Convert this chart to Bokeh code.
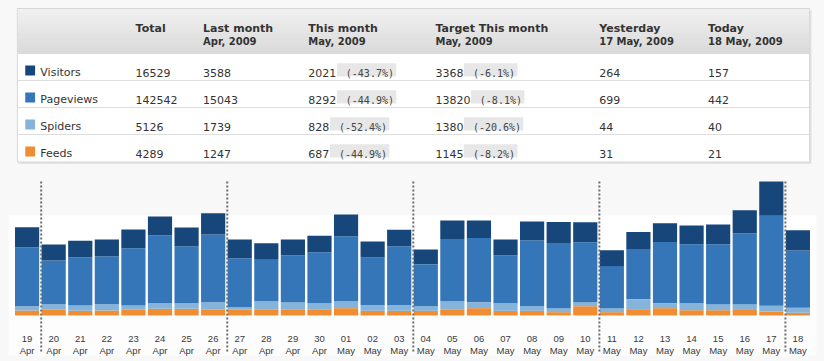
from bokeh.plotting import figure
from bokeh.models import Range1d, FactorRange, ColumnDataSource, BoxAnnotation
from bokeh.layouts import column
from bokeh.core.properties import value
from bokeh.embed import file_html
from bokeh.resources import INLINE

# ---------------- data ----------------
series = ["Visitors", "Pageviews", "Spiders", "Feeds"]
series_colors = ["#16467a", "#3576b8", "#86b3da", "#f08d33"]

col_titles = ["Total", "Last month", "This month", "Target This month", "Yesterday", "Today"]
col_subtitles = ["", "Apr, 2009", "May, 2009", "May, 2009", "17 May, 2009", "18 May, 2009"]

total = [16529, 142542, 5126, 4289]
last_month = [3588, 15043, 1739, 1247]
this_month = [2021, 8292, 828, 687]
this_month_pct = ["(-43.7%)", "(-44.9%)", "(-52.4%)", "(-44.9%)"]
target_month = [3368, 13820, 1380, 1145]
target_pct = ["(-6.1%)", "(-8.1%)", "(-20.6%)", "(-8.2%)"]
yesterday = [264, 699, 44, 31]
today = [157, 442, 40, 21]

day_labels = ["19", "20", "21", "22", "23", "24", "25", "26", "27", "28", "29", "30",
              "01", "02", "03", "04", "05", "06", "07", "08", "09", "10", "11", "12",
              "13", "14", "15", "16", "17", "18"]
month_labels = ["Apr"] * 12 + ["May"] * 18
week_starts = ["20 Apr", "27 Apr", "04 May", "11 May", "18 May"]

visitors = [155, 124, 129, 129, 145, 147, 145, 165, 145, 122, 122, 129, 168, 122, 129,
            114, 145, 137, 122, 145, 163, 155, 122, 132, 145, 145, 153, 178, 264, 157]
pageviews = [457, 339, 374, 372, 444, 525, 442, 525, 380, 326, 364, 395, 504, 372, 457,
             326, 481, 496, 372, 512, 504, 465, 326, 388, 473, 457, 465, 550, 699, 442]
spiders = [33, 43, 41, 49, 33, 43, 43, 59, 20, 67, 59, 51, 54, 43, 43,
           36, 67, 47, 59, 36, 31, 31, 31, 78, 39, 54, 47, 39, 44, 40]
feeds = [39, 44, 36, 39, 44, 52, 52, 44, 44, 44, 44, 44, 57, 36, 36,
         36, 44, 57, 36, 36, 26, 72, 26, 49, 57, 41, 41, 49, 31, 21]

# ---------------- style ----------------
BG = "#f8f8f8"
TXT = "#333333"
FONT = "DejaVu Sans"
MONO = "DejaVu Sans Mono"
W = 820

# ---------------- table figure (page pixel coordinates) ----------------
t = figure(width=W, height=171, x_range=Range1d(0, W), y_range=Range1d(171, 0),
           x_axis_location=None, y_axis_location=None, output_backend="svg",
           toolbar_location=None, min_border=0)
t.grid.visible = False
t.outline_line_color = None
t.background_fill_color = BG
t.border_fill_color = BG

# box with shadow
t.quad(left=[10], right=[815], top=[10], bottom=[163.5], fill_color="#e3e3e3", line_color=None)
t.quad(left=[9], right=[813], top=[8], bottom=[161.5], fill_color="white", line_color="#d6d6d6")

# header gradient
n = 15
h_top, h_bot = 8.5, 53.3
step = (h_bot - h_top) / n
c0, c1 = (0xf0, 0xf0, 0xf0), (0xda, 0xda, 0xda)
grad_cols = []
for i in range(n):
    f = i / (n - 1)
    cc = tuple(int(round(a + (b - a) * f)) for a, b in zip(c0, c1))
    grad_cols.append("#%02x%02x%02x" % cc)
t.quad(left=[9.5] * n, right=[812.5] * n,
       top=[h_top + i * step for i in range(n)],
       bottom=[h_top + (i + 1) * step + 0.3 for i in range(n)],
       fill_color=grad_cols, line_color=None)

# row separators
row_lines = [80, 107, 134]
t.segment(x0=[9.5] * 3, x1=[812.5] * 3, y0=row_lines, y1=row_lines, line_color="#dedede", line_width=1)

col_x = [129, 197.5, 304.3, 433.3, 599.5, 710]
t.text(x=col_x, y=[28] * 6, text=col_titles, text_font=value(FONT), text_font_size="11px",
       text_font_style="bold", text_color=TXT, text_baseline="alphabetic")
t.text(x=col_x, y=[41] * 6, text=col_subtitles, text_font=value(FONT), text_font_size="10px",
       text_font_style="bold", text_color=TXT, text_baseline="alphabetic")

row_base = [72 + 27 * r for r in range(4)]
# legend squares + labels
t.quad(left=[17] * 4, right=[27] * 4, top=[b - 7 for b in row_base], bottom=[b + 3 for b in row_base],
       fill_color=series_colors, line_color=None)
t.text(x=[32.3] * 4, y=row_base, text=series, text_font=value(FONT), text_font_size="11px",
       text_color=TXT, text_baseline="alphabetic")

cols_vals = [total, last_month, this_month, target_month, yesterday, today]
xs, ys, txt = [], [], []
for ci, vals in enumerate(cols_vals):
    for r, v in enumerate(vals):
        xs.append(col_x[ci]); ys.append(row_base[r]); txt.append(str(v))
t.text(x=xs, y=ys, text=txt, text_font=value(FONT), text_font_size="11px",
       text_color=TXT, text_baseline="alphabetic")

# percentage badges
DIGIT_W = 7.0
MONO_W = 6.02
bl, br, bt, bb, bx, by, btxt = [], [], [], [], [], [], []
for ci, vals, pcts in [(2, this_month, this_month_pct), (3, target_month, target_pct)]:
    for r, (v, p) in enumerate(zip(vals, pcts)):
        left = col_x[ci] + DIGIT_W * len(str(v)) + 1
        width = MONO_W * (len(p) + 1) + 6
        bl.append(left); br.append(left + width)
        bt.append(row_base[r] - 9.3); bb.append(row_base[r] + 4)
        bx.append(left + 3 + MONO_W); by.append(row_base[r] + 0.5); btxt.append(p)
t.quad(left=bl, right=br, top=bt, bottom=bb, fill_color="#e7e7e7", line_color=None)
t.text(x=bx, y=by, text=btxt, text_font=value(MONO), text_font_size="10px",
       text_color="#444444", text_baseline="alphabetic")

# ---------------- chart figure ----------------
K = 7.75  # counts per pixel


def px(v):
    return v * K


factors = [f"{d} {m}" for d, m in zip(day_labels, month_labels)]
src = ColumnDataSource(dict(day=factors, visitors=visitors, pageviews=pageviews,
                            spiders=spiders, feeds=feeds, dlab=day_labels, mlab=month_labels,
                            yd=[px(-23)] * len(factors), ym=[px(-34.5)] * len(factors)))

c = figure(width=W, height=186,
           x_range=FactorRange(factors=factors, range_padding=0.2, range_padding_units="absolute"),
           y_range=Range1d(px(-42), px(144)),
           x_axis_location=None, y_axis_location=None, output_backend="svg",
           toolbar_location=None, min_border=0, min_border_left=8, min_border_right=W - 816)
c.grid.visible = False
c.outline_line_color = None
c.background_fill_color = BG
c.border_fill_color = BG

c.add_layout(BoxAnnotation(bottom=px(-2), top=px(100), fill_color="white", fill_alpha=1,
                           line_color=None, level="underlay"))
c.add_layout(BoxAnnotation(bottom=px(-40), top=px(-3), fill_color="#fdfdfd", fill_alpha=1,
                           line_color=None, level="underlay"))

stack_order = ["feeds", "spiders", "pageviews", "visitors"]
stack_colors = [series_colors[3], series_colors[2], series_colors[1], series_colors[0]]
c.vbar_stack(stack_order, x="day", width=0.91, color=stack_colors, line_color=None, source=src)

# week separators
sep_x = [factors.index(w) + 0.03 for w in week_starts]
c.segment(x0=sep_x, x1=sep_x, y0=[px(134)] * len(sep_x), y1=[px(-37)] * len(sep_x),
          line_color="#6e6e6e", line_width=2, line_dash="2 2")

c.text(x="day", y="yd", text="dlab", source=src, text_font=value("Liberation Sans"),
       text_font_size="9.5px", text_color="#3a3a3a", text_align="center", text_baseline="alphabetic")
c.text(x="day", y="ym", text="mlab", source=src, text_font=value("Liberation Sans"),
       text_font_size="9.5px", text_color="#3a3a3a", text_align="center", text_baseline="alphabetic")

layout = column(t, c, spacing=0)
html = file_html(layout, INLINE)
html = html.replace("</head>", "<style>html, body { background: %s; }</style></head>" % BG, 1)
open("out.html", "w").write(html)
